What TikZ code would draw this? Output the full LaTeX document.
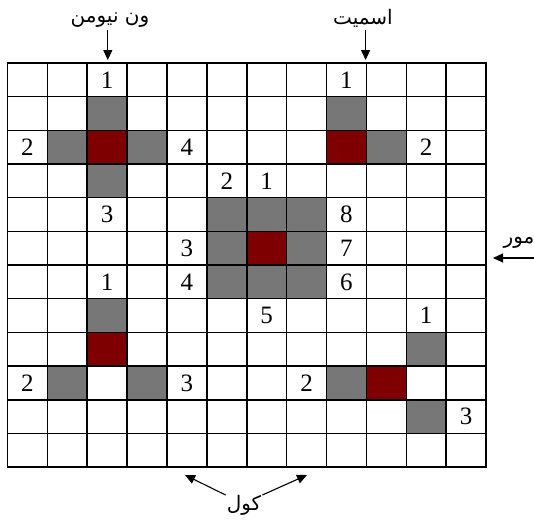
\documentclass[tikz,border=0pt]{standalone}
\usepackage{fontspec}
\setmainfont{Liberation Serif}
\newfontfamily\arabicfont[Script=Arabic]{DejaVu Sans}
\TeXXeTstate=1
\usetikzlibrary{arrows.meta}
\definecolor{cellred}{HTML}{7F0000}
\definecolor{cellgray}{HTML}{777777}
\begin{document}
\begin{tikzpicture}[x=1pt,y=-1pt,
  gridline/.style={line width=1.6pt,line cap=rect,black},
  num/.style={inner sep=0pt,font=\fontsize{25}{25}\selectfont},
  lbl/.style={inner sep=0pt,font=\arabicfont\fontsize{20}{20}\selectfont},
  arr/.style={line width=1.1pt,-{Triangle[length=10pt,width=9pt]}}]
\useasboundingbox (0,0) rectangle (534,519);
\def\X{7.5}\def\Y{63}\def\W{39.88}\def\H{33.67}
% gray cells
\foreach \c/\r in {2/1,8/1,1/2,3/2,9/2,2/3,5/4,6/4,7/4,5/5,7/5,5/6,6/6,7/6,2/7,10/8,1/9,3/9,8/9,10/10}
  \fill[cellgray] (\X+\c*\W,\Y+\r*\H) rectangle ++(\W,\H);
% red cells
\foreach \c/\r in {2/2,8/2,6/5,2/8,9/9}
  \fill[cellred] (\X+\c*\W,\Y+\r*\H) rectangle ++(\W,\H);
% grid
\foreach \i in {0,...,12}
  \draw[gridline] (\X+\i*\W,\Y) -- (\X+\i*\W,\Y+12*\H);
\foreach \j in {0,...,12}
  \draw[gridline] (\X,\Y+\j*\H) -- (\X+12*\W,\Y+\j*\H);
% numbers
\foreach \c/\r/\t [count=\k] in {2/0/1,8/0/1,0/2/2,4/2/4,10/2/2,5/3/2,6/3/1,2/4/3,8/4/8,4/5/3,8/5/7,2/6/1,4/6/4,8/6/6,6/7/5,10/7/1,0/9/2,4/9/3,7/9/2,11/10/3}
  \node[num] (n\k) at (\X+\c*\W+0.5*\W,\Y+\r*\H+0.5*\H) {\t};
% labels and arrows
\node[lbl] (vn) at (110,20) {\beginR ون نیومن\endR};
\coordinate (vnT) at (107.8,60);
\draw[arr] (vnT |- vn.south) ++(0,2) -- (vnT);
\node[lbl] (sm) at (363,18) {\beginR اسمیت\endR};
\coordinate (smT) at (365.6,60);
\draw[arr] (smT |- sm.south) ++(0,3) -- (smT);
\node[lbl] (mo) at (519,243) {\beginR مور\endR};
\coordinate (moS) at (534,258);
\coordinate (moT) at (493,258);
\draw[arr] (moS) -- (moT);
\node[lbl] (ko) at (244,505) {\beginR کول\endR};
\coordinate (koL) at (185,475);
\coordinate (koR) at (307,475);
\draw[arr] (ko.west) ++(-1,-10) -- (koL);
\draw[arr] (ko.east) ++(1,-10) -- (koR);
\end{tikzpicture}
\end{document}
